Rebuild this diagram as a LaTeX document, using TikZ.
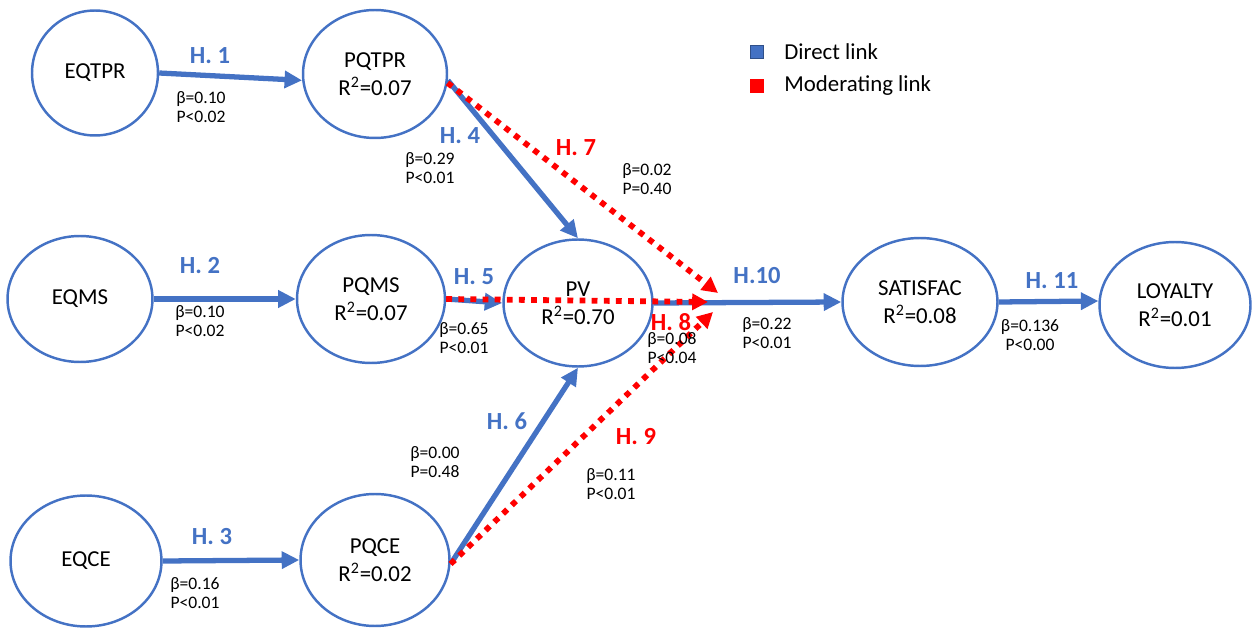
\documentclass[tikz,border=0pt]{standalone}
\usepackage{fontspec}
\setmainfont{Carlito}
\usepackage{xcolor}
\usepackage{tikz}
\usetikzlibrary{arrows.meta}
\usetikzlibrary{shapes.geometric}
\definecolor{linkblue}{HTML}{4472C4}
\definecolor{modred}{HTML}{FF0000}
\tikzset{>=latex}
\tikzset{
  var/.style = {ellipse, draw = linkblue, line width = 1.4pt, inner sep = 0, align = center, font = \fontsize{13}{16}\selectfont},
  direct/.style = {-{Triangle[length = 10pt, width = 9.5pt]}, draw = linkblue, line width = 3pt},
  moder/.style = {-{Triangle[length = 9pt, width = 9pt]}, draw = modred, line width = 3.3pt, dash pattern = on 3.3pt off 3.6pt},
  hyp/.style = {draw = none, inner sep = 0, text = linkblue, font = \fontsize{14}{16}\selectfont\bfseries},
  hypm/.style = {hyp, text = modred},
  coef/.style = {draw = none, inner sep = 0, align = center, font = \fontsize{10}{10.5}\selectfont},
  key/.style = {rectangle, inner sep = 0, minimum size = 0.27cm}
}

\begin{document}
\begin{tikzpicture}[x = 0.02cm, y = -0.02cm]
\useasboundingbox (0, 0) rectangle (1255, 628);
% constructs
\node [var, minimum width = 2.52cm, minimum height = 2.5cm] (EQTPR) at (95, 73) {EQTPR};
\node [var, minimum width = 2.88cm, minimum height = 2.56cm] (PQTPR) at (375, 74) {PQTPR\\R\textsuperscript{2}=0.07};
\node [var, minimum width = 2.9cm, minimum height = 2.52cm] (EQMS) at (80, 299) {EQMS};
\node [var, minimum width = 2.96cm, minimum height = 2.56cm] (PQMS) at (371, 299) {PQMS\\R\textsuperscript{2}=0.07};
\node [var, minimum width = 2.98cm, minimum height = 2.54cm] (PV) at (578, 303) {PV\\R\textsuperscript{2}=0.70};
\node [var, minimum width = 3.02cm, minimum height = 2.62cm] (EQCE) at (86, 561) {EQCE};
\node [var, minimum width = 2.98cm, minimum height = 2.64cm] (PQCE) at (375, 560) {PQCE\\R\textsuperscript{2}=0.02};
\node [var, minimum width = 3.1cm, minimum height = 2.56cm] (SAT) at (920, 302) {SATISFAC\\R\textsuperscript{2}=0.08};
\node [var, minimum width = 3.02cm, minimum height = 2.52cm] (LOY) at (1175, 305) {LOYALTY\\R\textsuperscript{2}=0.01};
\coordinate (m7) at (718, 293);
\coordinate (m8) at (708, 302);
\coordinate (m9) at (713, 312);

% direct links
\draw [direct] (EQTPR.east) to (PQTPR.185);
\draw [direct] (EQMS.east) to (PQMS.west);
\draw [direct] (EQCE.east) to (PQCE.west);
\draw [direct] (PQTPR.-5) to (PV.north);
\draw [direct] (PQMS.east) to (PV.west);
\draw [direct] (PQCE.-3) to (PV.south);
\draw [direct] (PV.east) to (SAT.west);
\draw [direct] (SAT.east) to (LOY.177);

% moderating links
\draw [moder] (PQTPR.-7) to (m7);
\draw [moder] (PQMS.east) to (m8);
\draw [moder] (PQCE.-3) to (m9);

% hypotheses
\node [hyp] (h1) at (210, 56) {H. 1};
\node [coef] (c1) at (201, 107) {β=0.10\\P<0.02};
\node [hyp] (h2) at (200, 266) {H. 2};
\node [coef] (c2) at (200, 321) {β=0.10\\P<0.02};
\node [hyp] (h3) at (212, 537) {H. 3};
\node [coef] (c3) at (195, 593) {β=0.16\\P<0.01};
\node [hyp] (h4) at (460, 136) {H. 4};
\node [coef] (c4) at (430, 168) {β=0.29\\P<0.01};
\node [hyp] (h5) at (474, 277) {H. 5};
\node [coef] (c5) at (464, 338) {β=0.65\\P<0.01};
\node [hyp] (h6) at (507, 421) {H. 6};
\node [coef] (c6) at (435, 462) {β=0.00\\P=0.48};
\node [hypm] (h7) at (576, 148) {H. 7};
\node [coef] (c7) at (647, 179) {β=0.02\\P=0.40};
\node [hypm] (h8) at (671, 322) {H. 8};
\node [coef] (c8) at (672, 348) {β=0.08\\P<0.04};
\node [hypm] (h9) at (636, 437) {H. 9};
\node [coef] (c9) at (611, 484) {β=0.11\\P<0.01};
\node [hyp] (h10) at (757, 276) {H.10};
\node [coef] (c10) at (767, 333) {β=0.22\\P<0.01};
\node [hyp] (h11) at (1052, 281) {H. 11};
\node [coef] (c11) at (1030, 335) {β=0.136\\P<0.00};

% legend
\node [key, fill = linkblue, draw = linkblue!70!black, line width = 0.4pt] (kd) at (757, 52) {};
\node [key, fill = modred] (km) at (757, 86) {};
\node [anchor = west, inner sep = 0, font = \fontsize{13}{16}\selectfont] (ld) at (784, 52) {Direct link};
\node [anchor = west, inner sep = 0, font = \fontsize{13}{16}\selectfont] (lm) at (784, 86) {Moderating link};
\end{tikzpicture}
\end{document}
